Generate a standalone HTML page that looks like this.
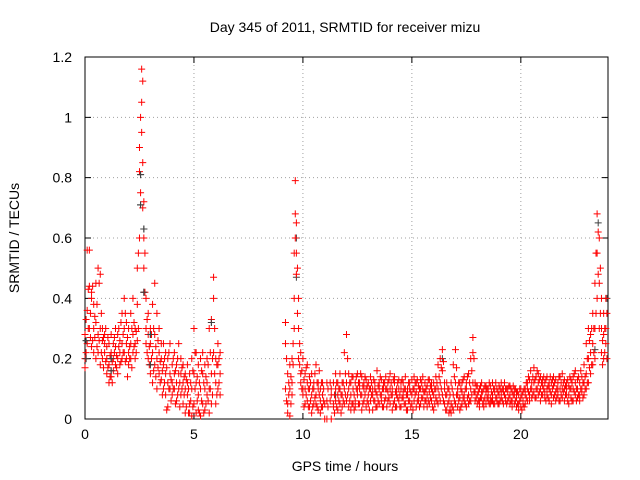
<!DOCTYPE html>
<html><head><meta charset="utf-8"><style>
body{margin:0;background:#fff}
svg{display:block;font-family:"Liberation Sans",sans-serif}
</style></head><body>
<svg id="chart" width="640" height="480" xmlns="http://www.w3.org/2000/svg">
<rect width="640" height="480" fill="#fff"/>
<g id="grid"></g>
<g id="axes"></g>
<g id="marks"></g>
<text x="345" y="32" font-size="14" text-anchor="middle">Day 345 of 2011, SRMTID for receiver mizu</text>
<text x="345" y="471" font-size="14" text-anchor="middle">GPS time / hours</text>
<text x="0" y="0" font-size="14" text-anchor="middle" transform="translate(19,238) rotate(-90)">SRMTID / TECUs</text>
</svg>
<script>
const xTicks=[0,5,10,15,20];
const yTicks=[0,0.2,0.4,0.6,0.8,1,1.2];
const yTickLabels=["0","0.2","0.4","0.6","0.8","1","1.2"];
const redSamples=[
[0.0,[0.2,0.28,0.17]],[0.1,[0.25,0.36,0.56]],[0.2,[0.44,0.3,0.56]],[0.3,[0.42,0.4,0.24]],[0.4,[0.38,0.22,0.3]],[0.5,[0.32,0.2,0.45]],[0.6,[0.5,0.28,0.22]],[0.7,[0.48,0.3,0.18]],[0.8,[0.3,0.26,0.2]],[0.9,[0.25,0.22,0.28]],
[1.0,[0.2,0.15,0.24]],[1.1,[0.18,0.12,0.25]],[1.2,[0.22,0.14,0.28]],[1.3,[0.2,0.25,0.16]],[1.4,[0.24,0.3,0.18]],[1.5,[0.28,0.2,0.15]],[1.6,[0.22,0.18,0.26]],[1.7,[0.35,0.25,0.2]],[1.8,[0.4,0.3,0.22]],[1.9,[0.25,0.2,0.32]],
[2.0,[0.3,0.22,0.18]],[2.1,[0.25,0.35,0.2]],[2.2,[0.28,0.22,0.4]],[2.3,[0.3,0.2,0.25]],[2.4,[0.38,0.5,0.26]],[2.5,[0.6,0.82,0.9]],[2.6,[1.16,1.05,0.95]],[2.65,[1.12,0.85,0.7]],[2.7,[0.72,0.6,0.5]],[2.8,[0.4,0.3,0.25]],[2.9,[0.35,0.2,0.28]],
[3.0,[0.3,0.15,0.25]],[3.1,[0.38,0.22,0.12]],[3.2,[0.28,0.45,0.18]],[3.3,[0.35,0.2,0.1]],[3.4,[0.3,0.15,0.22]],[3.5,[0.2,0.13,0.25]],[3.6,[0.18,0.1,0.25]],[3.7,[0.15,0.22,0.08]],[3.8,[0.2,0.04,0.12]],[3.9,[0.25,0.15,0.1]],
[4.0,[0.18,0.12,0.08]],[4.1,[0.22,0.15,0.1]],[4.2,[0.12,0.18,0.06]],[4.3,[0.25,0.1,0.15]],[4.4,[0.15,0.08,0.2]],[4.5,[0.12,0.05,0.18]],[4.6,[0.1,0.02,0.15]],[4.7,[0.18,0.08,0.12]],[4.8,[0.05,0.15,0.02]],[4.9,[0.1,0.2,0.01]],
[5.0,[0.3,0.15,0.05]],[5.1,[0.12,0.22,0.02]],[5.2,[0.08,0.18,0.03]],[5.3,[0.2,0.1,0.01]],[5.4,[0.15,0.05,0.22]],[5.5,[0.1,0.18,0.03]],[5.6,[0.2,0.08,0.12]],[5.7,[0.3,0.1,0.02]],[5.8,[0.33,0.15,0.05]],[5.9,[0.47,0.4,0.22]],
[6.0,[0.2,0.12,0.05]],[6.1,[0.18,0.25,0.1]],[6.2,[0.15,0.22,0.08]],
[9.2,[0.32,0.25,0.1]],[9.3,[0.15,0.05,0.02]],[9.4,[0.1,0.18,0.01]],[9.5,[0.08,0.2,0.12]],[9.6,[0.55,0.4,0.3]],[9.65,[0.79,0.68,0.6]],[9.7,[0.65,0.55,0.48]],[9.8,[0.4,0.3,0.2]],[9.9,[0.22,0.12,0.15]],
[10.0,[0.2,0.08,0.1]],[10.1,[0.15,0.1,0.05]],[10.2,[0.12,0.06,0.18]],[10.3,[0.1,0.04,0.14]],[10.4,[0.08,0.15,0.02]],[10.5,[0.12,0.05,0.1]],[10.6,[0.18,0.08,0.05]],[10.7,[0.1,0.03,0.12]],[10.8,[0.06,0.02,0.1]],[10.9,[0.08,0.04,0.12]],
[11.0,[0.0,0.0,0.05]],[11.1,[0.12,0.06,0.0]],[11.3,[0.0,0.08,0.1]],[11.4,[0.12,0.05,0.04]],[11.5,[0.1,0.06,0.15]],[11.6,[0.08,0.03,0.12]],[11.7,[0.15,0.05,0.1]],[11.8,[0.12,0.08,0.04]],[11.9,[0.22,0.1,0.05]],
[12.0,[0.28,0.12,0.06]],[12.1,[0.1,0.04,0.15]],[12.2,[0.08,0.12,0.03]],[12.3,[0.1,0.05,0.14]],[12.4,[0.12,0.06,0.04]],[12.5,[0.15,0.08,0.1]],[12.6,[0.1,0.05,0.12]],[12.7,[0.08,0.14,0.03]],[12.8,[0.12,0.06,0.1]],[12.9,[0.1,0.04,0.13]],
[13.0,[0.08,0.12,0.05]],[13.1,[0.14,0.06,0.1]],[13.2,[0.1,0.03,0.08]],[13.3,[0.06,0.12,0.1]],[13.4,[0.16,0.08,0.04]],[13.5,[0.1,0.05,0.12]],[13.6,[0.08,0.13,0.06]],[13.7,[0.12,0.04,0.1]],[13.8,[0.1,0.07,0.14]],[13.9,[0.06,0.12,0.09]],
[14.0,[0.15,0.05,0.1]],[14.1,[0.1,0.08,0.03]],[14.2,[0.12,0.06,0.14]],[14.3,[0.08,0.1,0.04]],[14.4,[0.13,0.06,0.1]],[14.5,[0.1,0.04,0.12]],[14.6,[0.07,0.12,0.09]],[14.7,[0.14,0.05,0.1]],[14.8,[0.1,0.08,0.03]],[14.9,[0.12,0.06,0.1]],
[15.0,[0.08,0.13,0.05]],[15.1,[0.1,0.06,0.14]],[15.2,[0.12,0.04,0.09]],[15.3,[0.08,0.11,0.06]],[15.4,[0.13,0.05,0.1]],[15.5,[0.1,0.07,0.14]],[15.6,[0.06,0.12,0.09]],[15.7,[0.11,0.04,0.08]],[15.8,[0.09,0.13,0.05]],[15.9,[0.12,0.06,0.1]],
[16.0,[0.08,0.03,0.12]],[16.1,[0.14,0.07,0.1]],[16.2,[0.1,0.05,0.18]],[16.3,[0.2,0.12,0.06]],[16.4,[0.23,0.16,0.08]],[16.5,[0.12,0.05,0.1]],[16.6,[0.08,0.03,0.12]],[16.7,[0.1,0.02,0.06]],[16.8,[0.05,0.12,0.02]],[16.9,[0.18,0.08,0.03]],
[17.0,[0.23,0.12,0.05]],[17.1,[0.1,0.04,0.08]],[17.2,[0.07,0.12,0.03]],[17.3,[0.12,0.05,0.09]],[17.4,[0.08,0.14,0.06]],[17.5,[0.1,0.04,0.12]],[17.6,[0.15,0.08,0.05]],[17.7,[0.2,0.1,0.06]],[17.8,[0.27,0.22,0.12]],[17.9,[0.12,0.06,0.09]],
[18.0,[0.08,0.11,0.05]],[18.1,[0.1,0.06,0.04]],[18.2,[0.12,0.07,0.09]],[18.3,[0.06,0.1,0.04]],[18.4,[0.09,0.05,0.11]],[18.5,[0.1,0.06,0.08]],[18.6,[0.07,0.11,0.05]],[18.7,[0.12,0.08,0.06]],[18.8,[0.09,0.05,0.1]],[18.9,[0.1,0.07,0.06]],
[19.0,[0.08,0.11,0.05]],[19.1,[0.12,0.07,0.09]],[19.2,[0.09,0.05,0.1]],[19.3,[0.07,0.1,0.06]],[19.4,[0.1,0.06,0.09]],[19.5,[0.08,0.11,0.05]],[19.6,[0.06,0.09,0.04]],[19.7,[0.1,0.05,0.08]],[19.8,[0.07,0.04,0.09]],[19.9,[0.05,0.08,0.03]],
[20.0,[0.07,0.04,0.1]],[20.1,[0.06,0.09,0.05]],[20.2,[0.08,0.05,0.1]],[20.3,[0.1,0.06,0.12]],[20.4,[0.08,0.13,0.06]],[20.5,[0.12,0.07,0.1]],[20.6,[0.17,0.09,0.12]],[20.7,[0.1,0.14,0.07]],[20.8,[0.12,0.08,0.15]],[20.9,[0.1,0.14,0.06]],
[21.0,[0.13,0.08,0.11]],[21.1,[0.09,0.12,0.07]],[21.2,[0.14,0.08,0.1]],[21.3,[0.1,0.06,0.12]],[21.4,[0.08,0.12,0.05]],[21.5,[0.11,0.07,0.14]],[21.6,[0.09,0.13,0.06]],[21.7,[0.12,0.08,0.1]],[21.8,[0.1,0.06,0.14]],[21.9,[0.15,0.1,0.07]],
[22.0,[0.1,0.13,0.06]],[22.1,[0.12,0.08,0.1]],[22.2,[0.08,0.11,0.05]],[22.3,[0.13,0.07,0.1]],[22.4,[0.1,0.14,0.06]],[22.5,[0.12,0.08,0.16]],[22.6,[0.1,0.07,0.13]],[22.7,[0.08,0.12,0.06]],[22.8,[0.14,0.09,0.1]],[22.9,[0.18,0.12,0.08]],
[23.0,[0.25,0.15,0.1]],[23.1,[0.3,0.2,0.12]],[23.2,[0.28,0.22,0.15]],[23.3,[0.35,0.25,0.18]],[23.4,[0.45,0.3,0.2]],[23.5,[0.68,0.55,0.4]],[23.6,[0.6,0.45,0.3]],[23.7,[0.4,0.3,0.22]],[23.8,[0.35,0.28,0.2]],[23.9,[0.4,0.3,0.25]]
];
const redSamplesB=[
[0.05,[0.33,0.22]],[0.15,[0.43,0.3]],[0.25,[0.35,0.27]],[0.35,[0.44,0.26]],[0.45,[0.27,0.34]],[0.55,[0.38,0.24]],[0.65,[0.45,0.26]],[0.75,[0.22,0.35]],[0.85,[0.27,0.17]],[0.95,[0.3,0.19]],
[1.05,[0.17,0.27]],[1.15,[0.21,0.14]],[1.25,[0.12,0.19]],[1.35,[0.22,0.27]],[1.45,[0.17,0.21]],[1.55,[0.3,0.24]],[1.65,[0.19,0.32]],[1.75,[0.22,0.28]],[1.85,[0.19,0.35]],[1.95,[0.27,0.14]],
[2.05,[0.24,0.2]],[2.15,[0.17,0.3]],[2.25,[0.24,0.32]],[2.35,[0.22,0.29]],[2.45,[0.55,0.3]],[2.55,[0.75,1.0]],[2.75,[0.42,0.55]],[2.85,[0.22,0.33]],[2.95,[0.18,0.24]],
[3.05,[0.2,0.28]],[3.15,[0.16,0.3]],[3.25,[0.14,0.24]],[3.35,[0.26,0.17]],[3.45,[0.12,0.19]],[3.55,[0.16,0.08]],[3.65,[0.2,0.12]],[3.75,[0.03,0.17]],[3.85,[0.1,0.22]],[3.95,[0.13,0.06]],
[4.05,[0.2,0.1]],[4.15,[0.05,0.16]],[4.25,[0.08,0.2]],[4.35,[0.12,0.04]],[4.45,[0.1,0.17]],[4.55,[0.08,0.14]],[4.65,[0.04,0.13]],[4.75,[0.1,0.02]],[4.85,[0.12,0.06]],[4.95,[0.04,0.16]],
[5.05,[0.1,0.22]],[5.15,[0.06,0.14]],[5.25,[0.12,0.02]],[5.35,[0.06,0.16]],[5.45,[0.12,0.02]],[5.55,[0.14,0.05]],[5.65,[0.06,0.18]],[5.75,[0.1,0.22]],[5.85,[0.2,0.08]],[5.95,[0.3,0.15]],[6.05,[0.18,0.08]],[6.15,[0.12,0.2]],
[9.25,[0.2,0.06]],[9.35,[0.12,0.08]],[9.45,[0.05,0.14]],[9.55,[0.18,0.25]],[9.75,[0.35,0.5]],[9.85,[0.18,0.25]],[9.95,[0.1,0.16]],
[10.05,[0.13,0.04]],[10.15,[0.08,0.17]],[10.25,[0.04,0.1]],[10.35,[0.12,0.06]],[10.45,[0.1,0.04]],[10.55,[0.07,0.15]],[10.65,[0.12,0.04]],[10.75,[0.08,0.16]],[10.85,[0.04,0.12]],[10.95,[0.06,0.1]],
[11.15,[0.04,0.1]],[11.25,[0.06,0.12]],[11.45,[0.08,0.02]],[11.55,[0.04,0.12]],[11.65,[0.1,0.06]],[11.75,[0.08,0.02]],[11.85,[0.06,0.12]],[11.95,[0.15,0.08]],
[12.05,[0.2,0.08]],[12.15,[0.06,0.12]],[12.25,[0.14,0.05]],[12.35,[0.08,0.03]],[12.45,[0.1,0.14]],[12.55,[0.05,0.12]],[12.65,[0.08,0.15]],[12.75,[0.11,0.05]],[12.85,[0.08,0.14]],[12.95,[0.06,0.11]],
[13.05,[0.1,0.03]],[13.15,[0.08,0.12]],[13.25,[0.13,0.06]],[13.35,[0.04,0.09]],[13.45,[0.11,0.06]],[13.55,[0.08,0.14]],[13.65,[0.1,0.04]],[13.75,[0.06,0.12]],[13.85,[0.04,0.1]],[13.95,[0.13,0.07]],
[14.05,[0.08,0.12]],[14.15,[0.05,0.13]],[14.25,[0.09,0.04]],[14.35,[0.12,0.07]],[14.45,[0.04,0.08]],[14.55,[0.13,0.07]],[14.65,[0.05,0.1]],[14.75,[0.08,0.03]],[14.85,[0.12,0.06]],[14.95,[0.04,0.09]],
[15.05,[0.1,0.03]],[15.15,[0.08,0.12]],[15.25,[0.06,0.13]],[15.35,[0.1,0.04]],[15.45,[0.07,0.12]],[15.55,[0.04,0.09]],[15.65,[0.1,0.06]],[15.75,[0.13,0.06]],[15.85,[0.07,0.11]],[15.95,[0.04,0.09]],
[16.05,[0.1,0.05]],[16.15,[0.06,0.12]],[16.25,[0.14,0.08]],[16.35,[0.17,0.1]],[16.45,[0.19,0.06]],[16.55,[0.08,0.03]],[16.65,[0.05,0.1]],[16.75,[0.08,0.03]],[16.85,[0.1,0.04]],[16.95,[0.06,0.14]],
[17.05,[0.17,0.08]],[17.15,[0.06,0.12]],[17.25,[0.1,0.04]],[17.35,[0.07,0.13]],[17.45,[0.1,0.05]],[17.55,[0.07,0.14]],[17.65,[0.12,0.06]],[17.75,[0.16,0.08]],[17.85,[0.2,0.09]],[17.95,[0.07,0.11]],
[18.05,[0.09,0.06]],[18.15,[0.11,0.07]],[18.25,[0.05,0.09]],[18.35,[0.11,0.07]],[18.45,[0.07,0.1]],[18.55,[0.05,0.12]],[18.65,[0.09,0.06]],[18.75,[0.1,0.05]],[18.85,[0.07,0.12]],[18.95,[0.09,0.05]],
[19.05,[0.1,0.06]],[19.15,[0.06,0.1]],[19.25,[0.08,0.12]],[19.35,[0.1,0.05]],[19.45,[0.07,0.11]],[19.55,[0.1,0.06]],[19.65,[0.08,0.11]],[19.75,[0.06,0.1]],[19.85,[0.09,0.05]],[19.95,[0.06,0.1]],
[20.05,[0.08,0.03]],[20.15,[0.1,0.04]],[20.25,[0.07,0.12]],[20.35,[0.09,0.14]],[20.45,[0.1,0.16]],[20.55,[0.14,0.08]],[20.65,[0.13,0.07]],[20.75,[0.16,0.1]],[20.85,[0.09,0.13]],[20.95,[0.12,0.08]],
[21.05,[0.1,0.14]],[21.15,[0.13,0.06]],[21.25,[0.11,0.07]],[21.35,[0.14,0.09]],[21.45,[0.1,0.13]],[21.55,[0.08,0.12]],[21.65,[0.1,0.07]],[21.75,[0.14,0.06]],[21.85,[0.08,0.12]],[21.95,[0.12,0.09]],
[22.05,[0.08,0.11]],[22.15,[0.13,0.06]],[22.25,[0.1,0.14]],[22.35,[0.06,0.12]],[22.45,[0.09,0.15]],[22.55,[0.1,0.06]],[22.65,[0.14,0.08]],[22.75,[0.1,0.16]],[22.85,[0.07,0.12]],[22.95,[0.14,0.1]],
[23.05,[0.2,0.12]],[23.15,[0.17,0.26]],[23.25,[0.3,0.18]],[23.35,[0.22,0.3]],[23.45,[0.55,0.35]],[23.55,[0.62,0.48]],[23.65,[0.5,0.35]],[23.75,[0.26,0.18]],[23.85,[0.3,0.22]],[23.95,[0.35,0.2]]
];
const blackSamples=[
[0.05,[0.26,0.2]],[1.2,[0.16,0.2]],[2.55,[0.71,0.81]],[2.7,[0.63,0.42]],[3.0,[0.28,0.18]],[5.8,[0.32]],[9.7,[0.6,0.47]],[11.5,[0.08]],[16.4,[0.2]],[23.4,[0.23]],[23.55,[0.65]],[23.95,[0.4]]
];
const X0=0,X1=24,Y0=0,Y1=1.2;
const L=85,R=608,T=57,B=419;
const sx=v=>L+(v-X0)/(X1-X0)*(R-L);
const sy=v=>B-(v-Y0)/(Y1-Y0)*(B-T);
const NS="http://www.w3.org/2000/svg";
function mk(tag,attrs,parent){const e=document.createElementNS(NS,tag);for(const k in attrs)e.setAttribute(k,attrs[k]);parent.appendChild(e);return e;}
const grid=document.getElementById('grid'),axes=document.getElementById('axes'),marks=document.getElementById('marks');
xTicks.forEach(t=>{
  if(t>X0){const g=mk('line',{x1:sx(t),x2:sx(t),y1:T,y2:B,stroke:'#a0a0a0','stroke-dasharray':'1,3'},grid);
  
  }
  const tk=mk('path',{d:`M${sx(t)},${B}v-6M${sx(t)},${T}v6`,stroke:'#000'},axes);
  
  
  const lb=mk('text',{x:sx(t),y:B+20,'font-size':14,'text-anchor':'middle'},axes);lb.textContent=t;
  
  
});
yTicks.forEach((t,i)=>{
  if(t>Y0&&t<Y1){const g=mk('line',{x1:L,x2:R,y1:sy(t),y2:sy(t),stroke:'#a0a0a0','stroke-dasharray':'1,3'},grid);
  
  }
  const tk=mk('path',{d:`M${L},${sy(t)}h6M${R},${sy(t)}h-6`,stroke:'#000'},axes);
  
  
  const lb=mk('text',{x:L-13,y:sy(t)+5,'font-size':14,'text-anchor':'end'},axes);lb.textContent=yTickLabels[i];
  
  
});
const fr=mk('rect',{x:L,y:T,width:R-L,height:B-T,fill:'none',stroke:'#000'},axes);


function plot(samples,color,name){
  let d='';
  samples.forEach(([t,vs])=>vs.forEach(v=>{const x=sx(t),y=sy(v);d+=`M${x-3.5},${y}h7M${x},${y-3.5}v7`;}));
  const p=mk('path',{d:d,stroke:color,'stroke-width':1,fill:'none'},marks);
  
  
}
plot(blackSamples,'#404040','srmtid-black-series');
plot(redSamples,'#ff0000','srmtid-red-series');
plot(redSamplesB,'#ff0000','srmtid-red-series-extra');
plot(blackSamples.slice(0,6),'#404040','srmtid-black-series-top');
</script>
</body></html>
